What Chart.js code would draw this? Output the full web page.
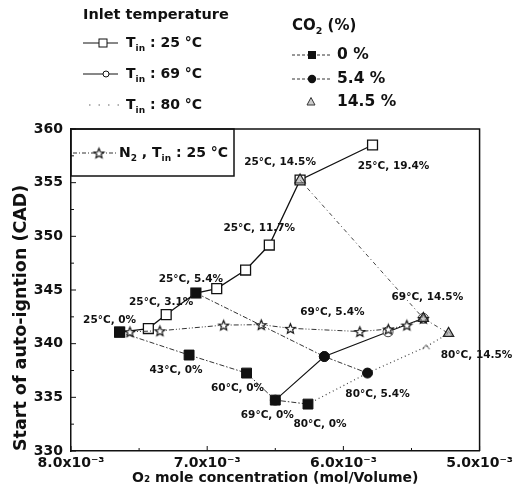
<!DOCTYPE html>
<html><head><meta charset="utf-8">
<script src="https://cdn.jsdelivr.net/npm/chart.js@4/dist/chart.umd.min.js"></script>
<style>html,body{margin:0;padding:0;background:#fff}#wrap{width:517px;height:503px}</style>
</head><body><div id="wrap"><canvas id="c" width="517" height="503"></canvas></div>
<script>
// ---------- data (O2 mole concentration [mol/Volume], start of auto-ignition [CAD]) ----------
const o2_T25  = [7.643e-3,7.432e-3,7.301e-3,7.083e-3,6.930e-3,6.718e-3,6.544e-3,6.318e-3,5.786e-3];
const sai_T25 = [341.08,341.41,342.71,344.72,345.13,346.86,349.19,355.25,358.51];
const o2_T69  = [6.500e-3,6.140e-3,5.672e-3,5.413e-3];
const sai_T69 = [334.74,338.80,341.11,342.36];
const o2_T80  = [6.260e-3,5.823e-3,5.393e-3,5.228e-3];
const sai_T80 = [334.37,337.26,339.71,340.96];
const o2_CO2_0   = [7.643e-3,7.133e-3,6.711e-3,6.500e-3,6.260e-3];
const sai_CO2_0  = [341.08,338.94,337.26,334.74,334.37];
const o2_CO2_54  = [7.083e-3,6.140e-3,5.823e-3];
const sai_CO2_54 = [344.72,338.80,337.26];
const o2_CO2_145  = [6.318e-3,5.413e-3,5.228e-3];
const sai_CO2_145 = [355.25,342.36,340.96];
const o2_N2  = [7.567e-3,7.347e-3,6.879e-3,6.603e-3,6.389e-3,5.879e-3,5.670e-3,5.534e-3,5.413e-3];
const sai_N2 = [341.11,341.20,341.73,341.77,341.43,341.13,341.36,341.73,342.36];

const xTickValues = [8.0e-3,7.0e-3,6.0e-3,5.0e-3];
const xTickLabels = ['8.0x10⁻³','7.0x10⁻³','6.0x10⁻³','5.0x10⁻³'];
const yTickValues = [330,335,340,345,350,355,360];
const yTickLabels = ['330','335','340','345','350','355','360'];

// point annotations: text + which series/point it belongs to
const pointLabelTexts  = ['25°C, 0%','25°C, 3.1%','25°C, 5.4%','25°C, 11.7%','25°C, 14.5%','25°C, 19.4%',
  '43°C, 0%','60°C, 0%','69°C, 0%','80°C, 0%','69°C, 5.4%','80°C, 5.4%','69°C, 14.5%','80°C, 14.5%'];
const pointLabelSeries = ['T25','T25','T25','T25','T25','T25','C0','C0','C0','C0','C54','C54','C145','C145'];
const pointLabelIndex  = [0,2,3,6,7,8,1,2,3,4,1,2,1,2];
// presentation: pixel offsets of each annotation from its point
const pointLabelOffsets = [[-10,-12],[-5,-12.5],[-5,-14],[-10,-17],[-20,-18],[21,21],
  [-13,15],[-9,15],[-8,15],[12,20],[8,-44.5],[10,21],[4,-21],[28,22]];

const seriesMap = {
  T25:[o2_T25,sai_T25], T69:[o2_T69,sai_T69], T80:[o2_T80,sai_T80],
  C0:[o2_CO2_0,sai_CO2_0], C54:[o2_CO2_54,sai_CO2_54], C145:[o2_CO2_145,sai_CO2_145], N2:[o2_N2,sai_N2]
};
const pts = (xs, ys) => xs.map((x,i)=>({x:x, y:ys[i]}));

// ---------- custom marker images ----------
function makeStar(R, r){
  const s = Math.ceil(2*R+4); const c = document.createElement('canvas'); c.width=c.height=s;
  const g = c.getContext('2d'); g.translate(s/2, s/2+0.6); g.beginPath();
  for(let i=0;i<10;i++){const rad=i%2?r:R; const a=-Math.PI/2+i*Math.PI/5; g.lineTo(rad*Math.cos(a), rad*Math.sin(a));}
  g.closePath(); g.fillStyle='#fff'; g.fill(); g.lineWidth=1.2; g.strokeStyle='#111'; g.stroke(); return c;
}
function makeChevron(){
  const c=document.createElement('canvas'); c.width=9; c.height=7; const g=c.getContext('2d');
  g.beginPath(); g.moveTo(1,6); g.lineTo(4.5,1.5); g.lineTo(8,6); g.lineWidth=1; g.strokeStyle='#555'; g.stroke(); return c;
}
const starImg = makeStar(5.2, 2.3);
const chevImg = makeChevron();

const INK = '#111';
const FONT = 'DejaVu Sans';
Chart.defaults.font.family = FONT;

function drawSub(ctx, x, y, parts, size, subSize){
  let cx = x;
  for(const p of parts){
    ctx.font = 'bold ' + (p.sub?subSize:size) + 'px "' + FONT + '"';
    ctx.textBaseline = 'middle'; ctx.textAlign = 'left';
    ctx.fillText(p.t, cx, y + (p.sub ? size*0.38 : 0));
    cx += ctx.measureText(p.t).width;
  }
  return cx;
}

const decorPlugin = {
  id:'decor',
  beforeDatasetsDraw(chart){
    const {ctx, chartArea:a, scales:{x,y}} = chart;
    ctx.save(); ctx.strokeStyle=INK; ctx.lineWidth=1.5;
    ctx.beginPath(); ctx.moveTo(a.left, a.top); ctx.lineTo(a.right, a.top); ctx.lineTo(a.right, a.bottom); ctx.stroke();
    // inward tick marks
    ctx.lineWidth=1;
    for(let v=330; v<=360; v+=2.5){
      const py=y.getPixelForValue(v); const len=(v%5===0)?5:3;
      ctx.beginPath(); ctx.moveTo(a.left, py); ctx.lineTo(a.left+len, py); ctx.stroke();
    }
    for(let k=0;k<=6;k++){
      const v=5.0e-3+k*0.5e-3; const px=x.getPixelForValue(v); const len=(k%2===0)?5:3;
      ctx.beginPath(); ctx.moveTo(px, a.bottom); ctx.lineTo(px, a.bottom-len); ctx.stroke();
    }
    // N2 legend box
    ctx.lineWidth=1.5; ctx.strokeRect(a.left, a.top, 163, 47);
    ctx.restore();
  },
  afterDatasetsDraw(chart){
    const {ctx, chartArea:a, scales:{x,y}} = chart;
    ctx.save();
    ctx.fillStyle=INK; ctx.font='bold 10.5px "'+FONT+'"'; ctx.textAlign='center'; ctx.textBaseline='middle';
    pointLabelTexts.forEach((t,i)=>{
      const s=seriesMap[pointLabelSeries[i]]; const j=pointLabelIndex[i];
      const px=x.getPixelForValue(s[0][j]), py=y.getPixelForValue(s[1][j]);
      ctx.fillText(t, px+pointLabelOffsets[i][0], py+pointLabelOffsets[i][1]);
    });
    // ---- N2 legend contents ----
    const ly = a.top + 24;
    ctx.strokeStyle='#333'; ctx.lineWidth=1; ctx.setLineDash([4,2,1,2]);
    ctx.beginPath(); ctx.moveTo(a.left+2, ly); ctx.lineTo(a.left+46, ly); ctx.stroke(); ctx.setLineDash([]);
    ctx.drawImage(starImg, a.left+28-starImg.width/2, ly-starImg.height/2);
    ctx.fillStyle=INK;
    drawSub(ctx, a.left+48, ly, [{t:'N'},{t:'2',sub:true},{t:' , T'},{t:'in',sub:true},{t:' : 25 °C'}], 14, 9);

    // ---- Inlet temperature legend ----
    ctx.font='bold 14.5px "'+FONT+'"'; ctx.textAlign='left'; ctx.textBaseline='middle';
    ctx.fillText('Inlet temperature', 83, 15);
    const rows=[43,74,105];
    ctx.strokeStyle=INK; ctx.lineWidth=1;
    ctx.beginPath(); ctx.moveTo(83,rows[0]); ctx.lineTo(118,rows[0]); ctx.stroke();
    ctx.fillStyle='#fff'; ctx.fillRect(99,rows[0]-4,8,8); ctx.strokeRect(99,rows[0]-4,8,8);
    ctx.beginPath(); ctx.moveTo(83,rows[1]); ctx.lineTo(118,rows[1]); ctx.stroke();
    ctx.beginPath(); ctx.arc(106,rows[1],3,0,Math.PI*2); ctx.fill(); ctx.stroke();
    ctx.strokeStyle='#666'; ctx.setLineDash([1.5,8]); ctx.lineWidth=1.2;
    ctx.beginPath(); ctx.moveTo(89,rows[2]); ctx.lineTo(119,rows[2]); ctx.stroke(); ctx.setLineDash([]);
    ctx.fillStyle=INK;
    drawSub(ctx,126,rows[0],[{t:'T'},{t:'in',sub:true},{t:' : 25 °C'}],14,9);
    drawSub(ctx,126,rows[1],[{t:'T'},{t:'in',sub:true},{t:' : 69 °C'}],14,9);
    drawSub(ctx,126,rows[2],[{t:'T'},{t:'in',sub:true},{t:' : 80 °C'}],14,9);

    // ---- CO2 legend ----
    drawSub(ctx,292,26,[{t:'CO'},{t:'2',sub:true},{t:' (%)'}],15,9.5);
    const r2=[55,79,102];
    ctx.strokeStyle='#333'; ctx.lineWidth=1; ctx.setLineDash([3,2]);
    [r2[0],r2[1]].forEach(yy=>{ctx.beginPath(); ctx.moveTo(292,yy); ctx.lineTo(331,yy); ctx.stroke();});
    ctx.setLineDash([]);
    ctx.fillStyle=INK; ctx.fillRect(308,r2[0]-4,8,8);
    ctx.beginPath(); ctx.arc(312,r2[1],4.2,0,Math.PI*2); ctx.fill();
    ctx.strokeStyle='#333'; ctx.fillStyle='#ccc'; ctx.beginPath();
    ctx.moveTo(311,r2[2]-4.5); ctx.lineTo(315,r2[2]+3); ctx.lineTo(307,r2[2]+3); ctx.closePath(); ctx.fill(); ctx.stroke();
    ctx.fillStyle=INK; ctx.font='bold 15.5px "'+FONT+'"'; ctx.textAlign='left';
    ctx.fillText('0 %',337,r2[0]); ctx.fillText('5.4 %',337,r2[1]); ctx.fillText('14.5 %',337,r2[2]);
    ctx.restore();
  }
};

const datasets = [
  {label:'CO2 0 %', data:pts(o2_CO2_0,sai_CO2_0), showLine:true, order:0,
   borderColor:'#333', borderWidth:1, borderDash:[5,2,1.5,2],
   pointStyle:'rect', pointRadius:7, pointBackgroundColor:INK, pointBorderColor:INK, pointBorderWidth:1},
  {label:'CO2 5.4 %', data:pts(o2_CO2_54,sai_CO2_54), showLine:true, order:1,
   borderColor:'#333', borderWidth:1, borderDash:[5,2,1.5,2],
   pointStyle:['rect','circle','circle'], pointRadius:[6.5,5,5], pointBackgroundColor:INK, pointBorderColor:INK, pointBorderWidth:1},
  {label:'CO2 14.5 %', data:pts(o2_CO2_145,sai_CO2_145), showLine:true, order:2,
   borderColor:'#444', borderWidth:1, borderDash:[4,3,1,3],
   pointStyle:'triangle', pointRadius:6, pointBackgroundColor:'rgba(170,170,170,0.6)', pointBorderColor:'#222', pointBorderWidth:1.2},
  {label:'N2 25', data:pts(o2_N2,sai_N2), showLine:true, order:3,
   borderColor:'#333', borderWidth:1, borderDash:[5,2,1,2,1,2],
   pointStyle:starImg, pointRadius:5},
  {label:'T25', data:pts(o2_T25,sai_T25), showLine:true, order:4,
   borderColor:INK, borderWidth:1.3,
   pointStyle:'rect', pointRadius:7, pointBackgroundColor:'#fff', pointBorderColor:INK, pointBorderWidth:1.3},
  {label:'T69', data:pts(o2_T69,sai_T69), showLine:true, order:5,
   borderColor:INK, borderWidth:1.1,
   pointStyle:'circle', pointRadius:5, pointBackgroundColor:'#fff', pointBorderColor:'#444', pointBorderWidth:1},
  {label:'T80', data:pts(o2_T80,sai_T80), showLine:true, order:6,
   borderColor:'#444', borderWidth:1.2, borderDash:[1,3],
   pointStyle:chevImg, pointRadius:4}
];

new Chart(document.getElementById('c'), {
  type:'scatter',
  data:{datasets},
  options:{
    responsive:false, animation:false, devicePixelRatio:1,
    layout:{padding:{top:129,right:33,left:0,bottom:0}},
    plugins:{legend:{display:false}, tooltip:{enabled:false}},
    scales:{
      x:{type:'linear', reverse:true, min:5.0e-3, max:8.0e-3,
        afterBuildTicks:s=>{s.ticks=xTickValues.map(v=>({value:v}));},
        afterFit:s=>{s.height=52;},
        ticks:{color:INK, padding:4, maxRotation:0, autoSkip:false, font:{size:14, weight:'bold'},
          callback:(v)=>{const i=xTickValues.findIndex(t=>Math.abs(t-v)<1e-9); return i>=0?xTickLabels[i]:'';}},
        grid:{display:false, drawTicks:false},
        border:{display:true, color:INK, width:1.5},
        title:{display:true, text:'O₂ mole concentration (mol/Volume)', color:INK,
          font:{size:14, weight:'bold'}, padding:{top:0, bottom:16.6}}
      },
      y:{type:'linear', min:330, max:360,
        afterBuildTicks:s=>{s.ticks=yTickValues.map(v=>({value:v}));},
        afterFit:s=>{s.width=71;},
        ticks:{color:INK, padding:8, autoSkip:false, font:{size:14, weight:'bold'},
          callback:(v)=>{const i=yTickValues.indexOf(v); return i>=0?yTickLabels[i]:'';}},
        grid:{display:false, drawTicks:false},
        border:{display:true, color:INK, width:1.5},
        title:{display:true, text:'Start of auto-igntion (CAD)', color:INK, align:'start',
          font:{size:17.5, weight:'bold'}, padding:{top:10.5, bottom:0}}
      }
    }
  },
  plugins:[decorPlugin]
});
</script>
</body></html>
